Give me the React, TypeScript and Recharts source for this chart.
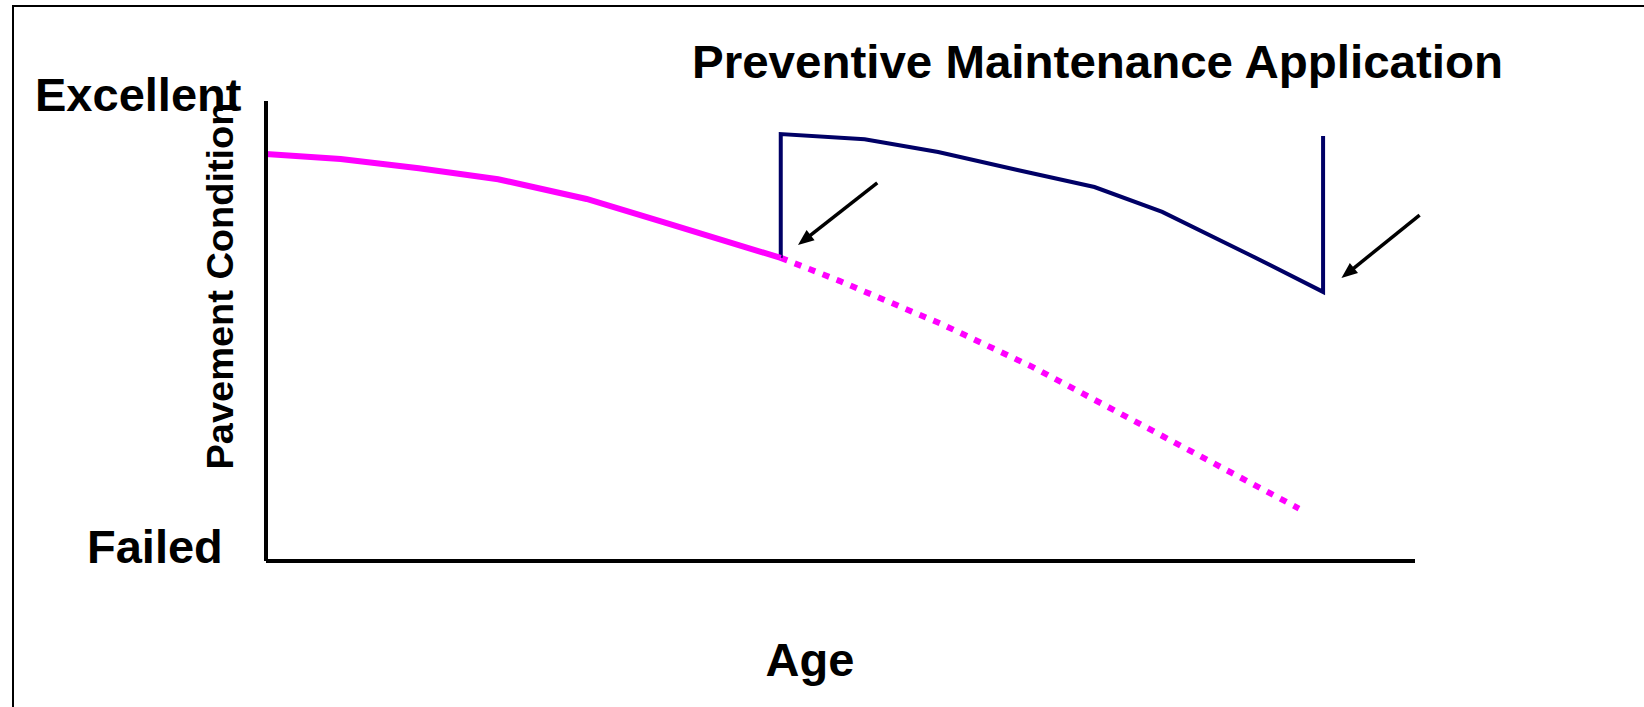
import React from "react";
import { LineChart, Line, XAxis, YAxis, ReferenceLine } from "recharts";

// age on a 0-100 scale, condition 0 (failed) to 100 (excellent)
const AGE_SOLID = [0, 6.5, 13.3, 20.2, 27.9, 34.8, 44.8];
const COND_SOLID = [88.5, 87.4, 85.4, 83.0, 78.7, 73.5, 65.9];

const AGE_DOTTED = [44.8, 49.9, 58.8, 66.7, 73.8, 81.3, 89.9];
const COND_DOTTED = [65.9, 60.9, 51.5, 42.2, 32.8, 22.8, 11.4];

const AGE_TREATED = [44.8, 44.8, 52.1, 58.5, 65.4, 72.1, 78.0, 85.5, 92.0, 92.0];
const COND_TREATED = [65.9, 92.8, 91.7, 88.9, 85.0, 81.3, 75.9, 66.7, 58.5, 92.4];

// annotation arrows: tail -> tip, in data units
const ARROW_FROM = [[53.2, 82.2], [100.4, 75.2]];
const ARROW_TO = [[46.3, 68.7], [93.6, 61.5]];

const toPoints = (xs: number[], ys: number[]) => xs.map((x, i) => ({ age: x, cond: ys[i] }));

const solidData = toPoints(AGE_SOLID, COND_SOLID);
const dottedData = toPoints(AGE_DOTTED, COND_DOTTED);
const treatedData = toPoints(AGE_TREATED, COND_TREATED);

const FONT = "'Liberation Sans', Arial, sans-serif";

// line with a filled arrow head at the second point
const ArrowShape = (props: any) => {
  const { x1, y1, x2, y2 } = props;
  if ([x1, y1, x2, y2].some((v) => v === undefined || isNaN(v))) return null;
  const dx = x2 - x1;
  const dy = y2 - y1;
  const len = Math.sqrt(dx * dx + dy * dy);
  const ux = dx / len;
  const uy = dy / len;
  const headLen = 16;
  const headW = 6.5;
  const bx = x2 - ux * headLen;
  const by = y2 - uy * headLen;
  const pts = [
    [x2, y2],
    [bx - uy * headW, by + ux * headW],
    [bx + uy * headW, by - ux * headW],
  ]
    .map((p) => p.join(","))
    .join(" ");
  return (
    <g>
      <line x1={x1} y1={y1} x2={bx + ux * 2} y2={by + uy * 2} stroke="#000" strokeWidth={3.5} />
      <polygon points={pts} fill="#000" />
    </g>
  );
};

export default function App() {
  return (
    <div style={{ position: "absolute", left: 0, top: 0, width: 1644, height: 707, background: "#fff" }}>
      {/* frame, only top and left edges are visible */}
      <div
        style={{
          position: "absolute",
          left: 12,
          top: 5,
          right: 0,
          bottom: 0,
          borderTop: "2px solid #000",
          borderLeft: "2px solid #000",
        }}
      />
      <LineChart width={1644} height={707} margin={{ top: 101, right: 229, bottom: 145, left: 265 }}>
        <XAxis
          dataKey="age"
          type="number"
          domain={[0, 100]}
          height={1}
          tick={false}
          tickLine={false}
          axisLine={{ stroke: "#000", strokeWidth: 4 }}
        />
        <YAxis
          type="number"
          domain={[0, 100]}
          width={1}
          tick={false}
          tickLine={false}
          axisLine={{ stroke: "#000", strokeWidth: 4 }}
        />
        <Line
          data={dottedData}
          dataKey="cond"
          type="linear"
          stroke="#ff00ff"
          strokeWidth={6}
          strokeDasharray="7 8"
          dot={false}
          activeDot={false}
          isAnimationActive={false}
        />
        <Line
          data={treatedData}
          dataKey="cond"
          type="linear"
          stroke="#000066"
          strokeWidth={4}
          dot={false}
          activeDot={false}
          isAnimationActive={false}
        />
        <Line
          data={solidData}
          dataKey="cond"
          type="linear"
          stroke="#ff00ff"
          strokeWidth={6}
          dot={false}
          activeDot={false}
          isAnimationActive={false}
        />
        {ARROW_FROM.map((from, i) => (
          <ReferenceLine
            key={i}
            segment={[
              { x: from[0], y: from[1] },
              { x: ARROW_TO[i][0], y: ARROW_TO[i][1] },
            ]}
            ifOverflow="visible"
            shape={ArrowShape}
          />
        ))}
      </LineChart>
      <svg
        width={1644}
        height={707}
        style={{ position: "absolute", left: 0, top: 0, pointerEvents: "none" }}
        fontFamily={FONT}
        fontWeight="bold"
        fill="#000"
      >
        <text x={692} y={78} fontSize={47} textLength={811} lengthAdjust="spacingAndGlyphs">
          Preventive Maintenance Application
        </text>
        <text x={35} y={111} fontSize={47}>
          Excellent
        </text>
        <text x={87} y={563} fontSize={47}>
          Failed
        </text>
        <text
          x={233}
          y={286}
          fontSize={37}
          textAnchor="middle"
          textLength={367}
          lengthAdjust="spacingAndGlyphs"
          transform="rotate(-90 233 286)"
        >
          Pavement Condition
        </text>
        <text x={810} y={676} fontSize={47} textAnchor="middle">
          Age
        </text>
      </svg>
    </div>
  );
}
